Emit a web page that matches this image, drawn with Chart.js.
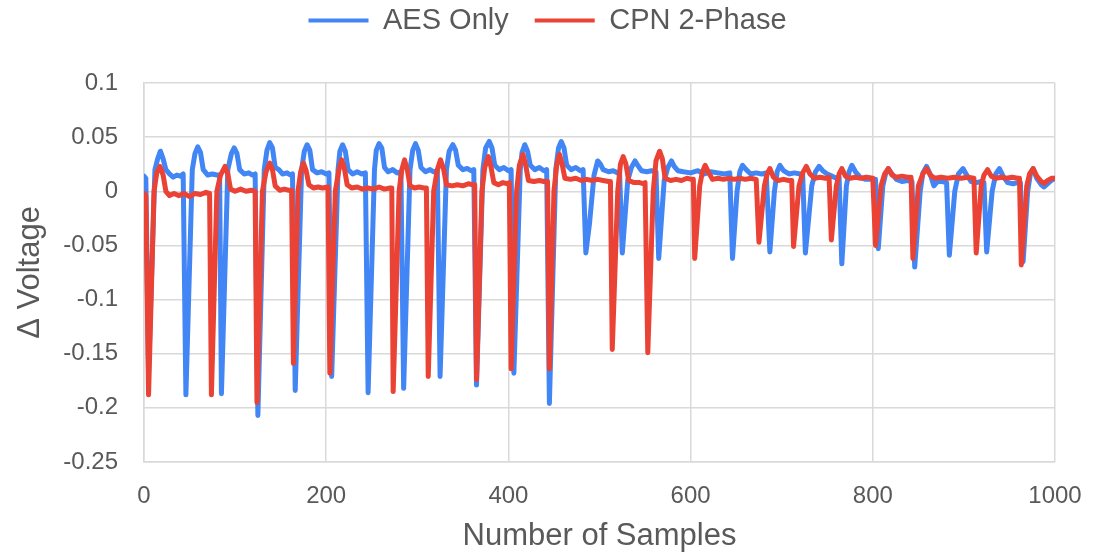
<!DOCTYPE html>
<html>
<head>
<meta charset="utf-8">
<script src="https://cdn.jsdelivr.net/npm/chart.js@4.4.1/dist/chart.umd.min.js"></script>
<style>
  html, body { margin: 0; padding: 0; background: #fff; }
  #wrap { width: 1096px; height: 559px; }
</style>
</head>
<body>
<div id="wrap"><canvas id="chart" width="1096" height="559"></canvas></div>
<script>
// Vertices (sample index, delta voltage)
const aesX = [0,2,5,12,15,18,21,24,28,32,36,40,43,46,
  53,56,59,62,65,70,75,80,83,85,
  92,96,99,102,105,110,115,119,122,125,
  132,135,138,141,144,148,152,157,161,163,166,
  173,176,179,182,185,190,195,200,203,206,
  213,215,218,221,224,229,234,239,243,246,
  253,255,258,261,264,268,273,278,282,285,
  292,295,298,301,304,309,314,318,322,325,
  332,335,339,342,345,350,355,359,362,365,
  372,375,379,382,385,390,395,400,403,406,
  413,415,418,421,424,429,434,439,442,445,
  452,455,458,461,464,469,474,479,482,485,
  489,494,498,501,504,510,515,520,522,525,
  531,535,539,542,546,552,557,562,565,
  571,575,579,582,586,592,600,608,615,622,630,637,643,646,
  651,654,657,661,666,672,678,683,687,
  692,695,698,702,708,714,720,723,726,
  733,737,741,745,750,755,760,763,766,
  771,774,777,781,786,792,798,803,806,
  811,814,817,821,826,832,838,843,846,
  852,855,859,863,867,871,876,881,884,
  890,894,899,903,908,914,919,922,925,
  931,935,939,943,948,954,959,962,965,
  970,973,976,980,985,988,992,996,1000];
const aesY = [0.014,0.012,-0.168,0.02,0.03,0.037,0.03,0.02,0.016,0.013,0.015,0.014,0.016,-0.188,
  0.02,0.035,0.041,0.036,0.02,0.015,0.016,0.015,0.015,-0.187,
  0.02,0.035,0.04,0.035,0.02,0.016,0.017,0.015,0.016,-0.207,
  0.02,0.038,0.045,0.04,0.022,0.02,0.016,0.017,0.015,0.016,-0.184,
  0.02,0.037,0.043,0.038,0.02,0.017,0.018,0.016,0.017,-0.171,
  0.02,0.037,0.043,0.037,0.02,0.016,0.018,0.016,0.017,-0.186,
  0.02,0.038,0.044,0.04,0.022,0.018,0.02,0.017,0.018,-0.182,
  0.02,0.038,0.044,0.038,0.022,0.018,0.02,0.018,0.019,-0.171,
  0.02,0.037,0.043,0.038,0.024,0.02,0.021,0.019,0.02,-0.179,
  0.02,0.04,0.046,0.04,0.024,0.02,0.022,0.019,0.02,-0.168,
  0.02,0.036,0.043,0.037,0.024,0.02,0.022,0.019,0.02,-0.196,
  0.02,0.04,0.046,0.04,0.024,0.02,0.022,0.019,0.02,-0.057,
  -0.03,0.015,0.028,0.025,0.02,0.018,0.019,0.017,0.018,-0.057,
  0.01,0.022,0.028,0.024,0.019,0.018,0.019,0.018,-0.062,
  0.01,0.022,0.028,0.023,0.019,0.018,0.017,0.019,0.016,0.018,0.017,0.016,0.017,-0.062,
  0.0,0.018,0.024,0.02,0.016,0.017,0.016,0.017,-0.056,
  0.0,0.018,0.024,0.019,0.016,0.017,0.016,0.016,-0.057,
  0.005,0.018,0.023,0.019,0.016,0.014,0.012,0.013,-0.067,
  0.005,0.018,0.024,0.018,0.013,0.011,0.011,0.011,-0.053,
  0.005,0.016,0.021,0.016,0.011,0.009,0.01,0.009,-0.07,
  0.0,0.017,0.023,0.016,0.005,0.009,0.009,0.008,-0.059,
  0.0,0.016,0.021,0.015,0.009,0.008,0.009,0.008,-0.056,
  0.0,0.016,0.021,0.014,0.008,0.007,0.008,0.008,-0.065,
  0.0,0.016,0.021,0.012,0.006,0.004,0.007,0.01,0.012];

const cpnX = [0,2,5,11,14,17.5,21,24,28,33,38,44,50,56,62,68,72,74,
  80,84,89,92,95,100,106,112,118,122,124,
  130,134,138,141,144,149,154,159,162,164,
  169,172,175,178,181,186,191,196,202,204,
  210,214,217,220,223,228,234,240,246,252,258,264,270,272,273.5,
  280,283,286,289,292,297,302,307,310,312,
  318,322,325.5,329,332,338,344,350,356,361,363,365,
  371,374,378,381,384,389,394,399,401,403,
  409,412,416,419,422,428,434,439,443,445,
  450,453,456,459,462,468,474,480,486,492,498,504,510,512,514,
  520,523,526,529,532,538,544,548,550,553,
  559,562,566,569,572,578,584,590,596,601,603,604.5,
  610,613,616,620,624,630,636,642,648,654,660,666,672,675,
  681,684,687,691,696,702,708,711,713,
  719,723,727,731,736,742,748,752,754.5,
  760,763,766,770,775,781,787,793,800,803,
  809,813,817,821,826,832,838,842,844,
  850,855,859,863,868,875,882,890,897,904,911,913.5,
  919,922,926,930,935,941,947,953,959,961,963,
  969,972,976,980,985,988,992,996,1000];
const cpnY = [-0.002,-0.004,-0.188,0.0,0.017,0.023,0.015,0.0,-0.004,-0.002,-0.004,-0.002,-0.005,-0.002,-0.003,-0.001,-0.002,-0.188,
  0.0,0.015,0.023,0.016,0.002,0.0,0.002,0.0,0.001,0.0,-0.195,
  0.0,0.018,0.026,0.02,0.005,0.001,0.002,0.001,0.001,-0.159,
  0.0,0.018,0.026,0.019,0.006,0.003,0.004,0.003,0.004,-0.168,
  0.0,0.02,0.029,0.021,0.006,0.003,0.004,0.002,0.003,0.002,0.004,0.002,0.003,0.003,-0.185,
  0.0,0.02,0.029,0.02,0.005,0.003,0.004,0.003,0.003,-0.171,
  0.0,0.02,0.029,0.02,0.006,0.005,0.006,0.005,0.007,0.006,0.006,-0.174,
  0.0,0.022,0.032,0.022,0.008,0.006,0.008,0.007,0.008,-0.164,
  0.0,0.024,0.034,0.024,0.01,0.009,0.01,0.009,0.009,-0.164,
  0.0,0.024,0.034,0.025,0.012,0.011,0.012,0.01,0.011,0.01,0.011,0.01,0.009,0.009,-0.146,
  0.0,0.025,0.032,0.025,0.01,0.008,0.008,0.007,0.008,-0.149,
  0.0,0.028,0.037,0.03,0.012,0.01,0.011,0.01,0.012,0.011,0.011,-0.062,
  0.005,0.018,0.024,0.017,0.011,0.012,0.011,0.012,0.011,0.012,0.011,0.012,0.011,-0.047,
  0.005,0.016,0.021,0.013,0.01,0.011,0.01,0.01,-0.051,
  0.005,0.017,0.023,0.016,0.012,0.013,0.012,0.013,-0.045,
  0.005,0.016,0.021,0.014,0.012,0.013,0.012,0.013,0.012,-0.05,
  0.005,0.016,0.021,0.015,0.013,0.014,0.013,0.013,-0.062,
  0.005,0.016,0.021,0.015,0.012,0.013,0.012,0.013,0.012,0.013,0.012,-0.057,
  0.005,0.015,0.02,0.014,0.012,0.013,0.012,0.013,0.012,0.012,-0.068,
  0.005,0.016,0.021,0.014,0.009,0.0075,0.01,0.012,0.012];

const seriesNames = ['AES Only', 'CPN 2-Phase'];
const xTickValues = [0, 200, 400, 600, 800, 1000];
const yTickValues = [0.1, 0.05, 0, -0.05, -0.1, -0.15, -0.2, -0.25];
const yTickLabels = ['0.1', '0.05', '0', '-0.05', '-0.1', '-0.15', '-0.2', '-0.25'];

const toPoints = (xs, ys) => xs.map((x, i) => ({ x: x, y: ys[i] }));

const textColor = '#595959';
const gridColor = '#d9d9d9';
const fontFamily = '"Liberation Sans", Arial, sans-serif';

// keep the legend line close to the top but the plot area lower, like the original
const legendHeight = {
  id: 'legendHeight',
  beforeLayout(chart) {
    const legend = chart.legend;
    if (!legend || legend._patched) return;
    const fit = legend.fit;
    legend.fit = function () {
      fit.call(this);
      this.height = 103;
    };
    legend._patched = true;
  },
  afterLayout(chart) {
    // the original legend sits a bit right of the canvas centre
    chart.legend.left += 20;
    chart.legend.right += 20;
  }
};

new Chart(document.getElementById('chart').getContext('2d'), {
  type: 'line',
  data: {
    datasets: [{
      label: seriesNames[0],
      data: toPoints(aesX, aesY),
      borderColor: '#4285f4',
      backgroundColor: '#4285f4',
      borderWidth: 5,
      borderJoinStyle: 'round',
      borderCapStyle: 'round',
      pointRadius: 0,
      tension: 0,
      order: 1
    }, {
      label: seriesNames[1],
      data: toPoints(cpnX, cpnY),
      borderColor: '#ea4335',
      backgroundColor: '#ea4335',
      borderWidth: 5,
      borderJoinStyle: 'round',
      borderCapStyle: 'round',
      pointRadius: 0,
      tension: 0,
      order: 0
    }]
  },
  plugins: [legendHeight],
  options: {
    responsive: false,
    animation: false,
    layout: { padding: { left: 0, right: 41, top: -20, bottom: 0 } },
    plugins: {
      legend: {
        position: 'top',
        labels: {
          boxWidth: 60,
          boxHeight: 4,
          padding: 26,
          color: textColor,
          font: { family: fontFamily, size: 29 },
          sort: (a, b) => a.datasetIndex - b.datasetIndex,
          generateLabels: chart => Chart.defaults.plugins.legend.labels.generateLabels(chart)
            .map(item => Object.assign(item, { lineWidth: 0 }))
        }
      },
      tooltip: { enabled: false }
    },
    scales: {
      x: {
        type: 'linear',
        min: 0,
        max: 1000,
        afterBuildTicks: axis => { axis.ticks = xTickValues.map(v => ({ value: v })); },
        afterFit: axis => { axis.height = 97; axis.paddingRight = 0; axis.paddingLeft = 0; },
        ticks: {
          color: textColor,
          font: { family: fontFamily, size: 24 },
          padding: 20,
          callback: v => String(v)
        },
        grid: { color: gridColor, lineWidth: 1.5, drawTicks: false },
        border: { color: gridColor, width: 1.5 },
        title: {
          display: true,
          text: 'Number of Samples',
          color: textColor,
          font: { family: fontFamily, size: 31 },
          padding: { top: 4 }
        }
      },
      y: {
        min: -0.25,
        max: 0.1,
        afterBuildTicks: axis => { axis.ticks = yTickValues.map(v => ({ value: v })); },
        afterFit: axis => { axis.width = 144; },
        ticks: {
          color: textColor,
          font: { family: fontFamily, size: 24 },
          padding: 26,
          callback: v => {
            const i = yTickValues.findIndex(t => Math.abs(t - v) < 1e-9);
            return i >= 0 ? yTickLabels[i] : v;
          }
        },
        grid: { color: gridColor, lineWidth: 1.5, drawTicks: false },
        border: { color: gridColor, width: 1.5 },
        title: {
          display: true,
          text: 'Δ Voltage',
          color: textColor,
          font: { family: fontFamily, size: 31 },
          padding: { top: 12, bottom: 0 }
        }
      }
    }
  }
});
</script>
</body>
</html>
